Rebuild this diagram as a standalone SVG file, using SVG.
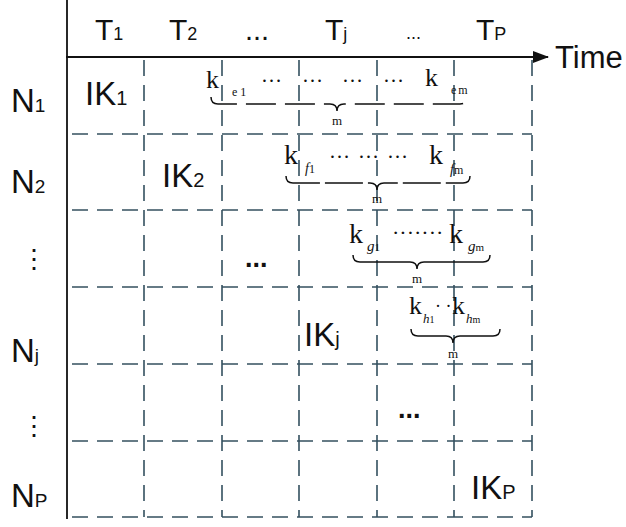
<svg xmlns="http://www.w3.org/2000/svg" width="626" height="527" viewBox="0 0 626 527">
<style>
.lab{font-family:"Liberation Sans",Arial,sans-serif;fill:#111}
.ser{font-family:"Liberation Serif","Times New Roman",serif;fill:#111}
.it{font-style:italic}
.grid{stroke:#34505f;stroke-width:1.6;fill:none;stroke-dasharray:16 9}
.axis{stroke:#111;stroke-width:1.8;fill:none}
.brace{stroke:#111;stroke-width:1.5;fill:none}
</style>
<defs>
<marker id="arr" markerWidth="16" markerHeight="12" refX="15" refY="6" orient="auto" markerUnits="userSpaceOnUse">
<path d="M0,0 L16,6 L0,12 z" fill="#111"/>
</marker>
</defs>
<rect width="626" height="527" fill="#ffffff"/>
<g id="connectors">
<g id="grid">
<path class="grid" d="M72,134H532M72,210H532M72,287H532M72,364H532M72,441H532M72,517H532"/>
<path class="grid" d="M144,60V517M222,60V517M299,60V517M377,60V517M454,60V517M532,60V517"/>
</g>
<line id="y-axis" class="axis" x1="67" y1="0" x2="67" y2="519"/>
<line id="time-axis" class="axis" x1="66" y1="57" x2="548" y2="57" marker-end="url(#arr)"/>
</g>
<g id="header">
<text class="lab" x="95" y="40" font-size="30">T<tspan font-size="18">1</tspan></text>
<text class="lab" x="169" y="40" font-size="30">T<tspan font-size="18">2</tspan></text>
<text class="lab" x="245" y="40" font-size="29">...</text>
<text class="lab" x="325" y="40" font-size="30">T<tspan font-size="18">j</tspan></text>
<text class="lab" x="406" y="39" font-size="18">...</text>
<text class="lab" x="476" y="40" font-size="30">T<tspan font-size="18">P</tspan></text>
<text class="lab" x="555" y="68" font-size="31">Time</text>
</g>
<g id="rows">
<text class="lab" x="11" y="112" font-size="33">N<tspan font-size="19">1</tspan></text>
<text class="lab" x="11" y="193" font-size="33">N<tspan font-size="19">2</tspan></text>
<text class="lab" x="21" y="268" font-size="26">⋮</text>
<text class="lab" x="11" y="362" font-size="33">N<tspan font-size="19">j</tspan></text>
<text class="lab" x="21" y="435" font-size="26">⋮</text>
<text class="lab" x="11" y="507" font-size="33">N<tspan font-size="19">P</tspan></text>
</g>
<g id="ik1"><text class="lab" x="85" y="105" font-size="33">IK<tspan font-size="20">1</tspan></text></g>
<g id="ik2"><text class="lab" x="162" y="187" font-size="33">IK<tspan font-size="20">2</tspan></text></g>
<g id="ikj"><text class="lab" x="304" y="346" font-size="33">IK<tspan font-size="20">j</tspan></text></g>
<g id="ikp"><text class="lab" x="471" y="499" font-size="33">IK<tspan font-size="20">P</tspan></text></g>
<g id="dots3"><text class="lab" x="245" y="267" font-size="27" font-weight="bold">...</text></g>
<g id="dots5"><text class="lab" x="398" y="418" font-size="27" font-weight="bold">...</text></g>
<g id="keys-e">
<text class="ser" x="206" y="88" font-size="26">k</text>
<text class="ser" x="232" y="96" font-size="12">e<tspan dx="3">1</tspan></text>
<text class="ser" x="261" y="82" font-size="21">…</text>
<text class="ser" x="302" y="82" font-size="21">…</text>
<text class="ser" x="342" y="82" font-size="21">…</text>
<text class="ser" x="383" y="82" font-size="21">…</text>
<text class="ser" x="425" y="86" font-size="26">k</text>
<text class="ser" x="451" y="94" font-size="12">e<tspan dx="2">m</tspan></text>
<path class="brace" stroke-dasharray="30 9" d="M211,97 Q211,104 218,104 L330,104 Q337,104 337,111 Q337,104 344,104 L460,104 Q467,104 467,97"/>
<text class="ser" x="337" y="125" font-size="13" text-anchor="middle">m</text>
</g>
<g id="keys-f">
<text class="ser" x="284" y="164" font-size="28">k</text>
<text class="ser" x="305" y="173" font-size="14"><tspan class="it">f</tspan><tspan font-size="12">1</tspan></text>
<text class="ser" x="329" y="158" font-size="21">…</text>
<text class="ser" x="358" y="158" font-size="21">…</text>
<text class="ser" x="387" y="158" font-size="21">…</text>
<text class="ser" x="429" y="164" font-size="28">k</text>
<text class="ser" x="450" y="174" font-size="14"><tspan class="it">f</tspan><tspan font-size="12">m</tspan></text>
<path class="brace" stroke-dasharray="38 5" d="M286,176 Q286,183 293,183 L370,183 Q377,183 377,190 Q377,183 384,183 L463,183 Q470,183 470,176"/>
<text class="ser" x="377" y="203" font-size="13" text-anchor="middle">m</text>
</g>
<g id="keys-g">
<text class="ser" x="349" y="243" font-size="28">k</text>
<text class="ser" x="367" y="251" font-size="15"><tspan class="it">g</tspan><tspan font-size="11">1</tspan></text>
<text class="ser" x="392" y="240" font-size="22">·······</text>
<text class="ser" x="449" y="243" font-size="28">k</text>
<text class="ser" x="468" y="251" font-size="15"><tspan class="it">g</tspan><tspan font-size="11">m</tspan></text>
<path class="brace" d="M353,255 Q353,262 360,262 L410,262 Q417,262 417,269 Q417,262 424,262 L483,262 Q490,262 490,255"/>
<text class="ser" x="417" y="283" font-size="13" text-anchor="middle">m</text>
</g>
<g id="keys-h">
<text class="ser" x="409" y="314" font-size="26">k</text>
<text class="ser" x="423" y="323" font-size="13"><tspan class="it">h</tspan><tspan font-size="10">1</tspan></text>
<text class="ser" x="435" y="312" font-size="18">· ·</text>
<text class="ser" x="452" y="314" font-size="26">k</text>
<text class="ser" x="466" y="323" font-size="13"><tspan class="it">h</tspan><tspan font-size="10">m</tspan></text>
<path class="brace" d="M411,329 Q411,336 418,336 L446,336 Q453,336 453,343 Q453,336 460,336 L493,336 Q500,336 500,329"/>
<text class="ser" x="453" y="358" font-size="13" text-anchor="middle">m</text>
</g>
</svg>
